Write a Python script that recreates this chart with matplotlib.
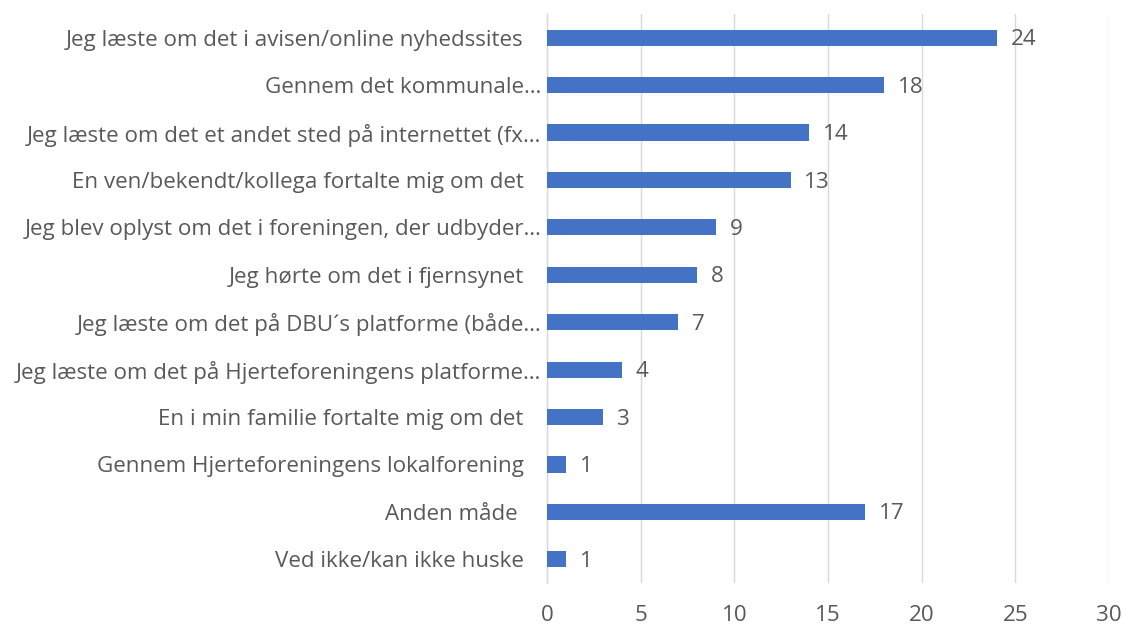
import matplotlib.pyplot as plt

# survey answers, top to bottom as in the chart
labels = [
    "Jeg læste om det i avisen/online nyhedssites   ",
    "Gennem det kommunale…",
    "Jeg læste om det et andet sted på internettet (fx…",
    "En ven/bekendt/kollega fortalte mig om det   ",
    "Jeg blev oplyst om det i foreningen, der udbyder…",
    "Jeg hørte om det i fjernsynet   ",
    "Jeg læste om det på DBU´s platforme (både…",
    "Jeg læste om det på Hjerteforeningens platforme…",
    "En i min familie fortalte mig om det   ",
    "Gennem Hjerteforeningens lokalforening   ",
    "Anden måde    ",
    "Ved ikke/kan ikke huske   ",
]
counts = [24, 18, 14, 13, 9, 8, 7, 4, 3, 1, 17, 1]
xticks = [0, 5, 10, 15, 20, 25, 30]

bar_color = "#4472C4"
text_color = "#595959"
grid_color = "#D9D9D9"

plt.rcParams["font.family"] = ["Open Sans", "DejaVu Sans"]
fs = 16.1

fig = plt.figure(figsize=(11.25, 6.26), dpi=100)
ax = fig.add_axes([0.4862, 0.0687, 0.4996, 0.9089])

pos = list(range(len(labels)))
ax.barh(pos, counts, height=0.34, color=bar_color, zorder=3)

for y, v in zip(pos, counts):
    ax.annotate(str(v), (v, y), xytext=(10, -1.5), textcoords="offset points",
                ha="left", va="center", fontsize=fs, color=text_color)

ax.set_xlim(0, 30)
ax.set_ylim(len(labels) - 0.5, -0.5)
ax.set_xticks(xticks)
ax.set_yticks(pos)
ax.set_yticklabels(labels)
ax.xaxis.grid(True, color=grid_color, linewidth=1, zorder=0)
ax.tick_params(axis="both", length=0, labelsize=fs, colors=text_color)
ax.tick_params(axis="x", pad=16)
ax.tick_params(axis="y", pad=4)

for side in ["top", "right", "bottom"]:
    ax.spines[side].set_visible(False)
ax.spines["left"].set_color(grid_color)
ax.spines["left"].set_linewidth(1)

fig.savefig("out.png", dpi=100)
